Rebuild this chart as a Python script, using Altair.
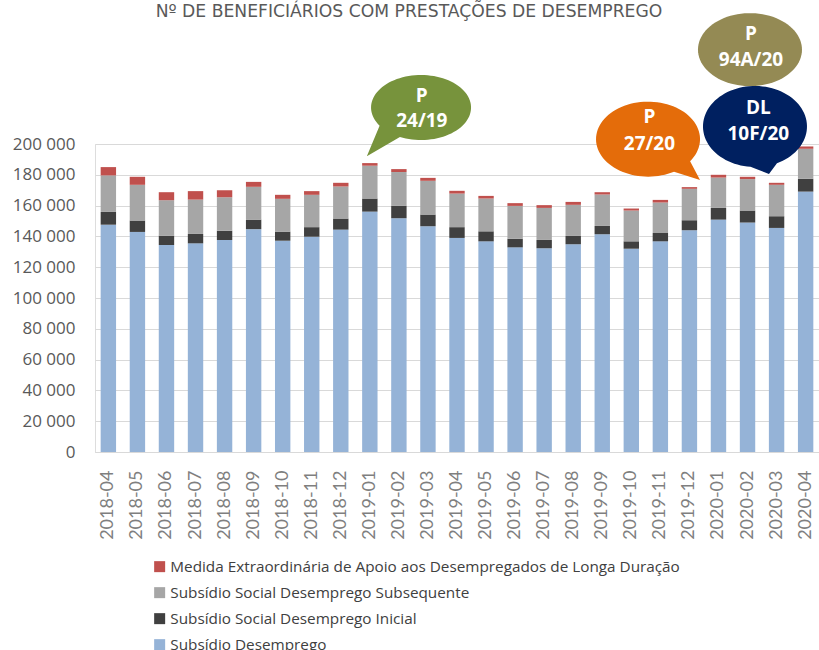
import math
import altair as alt
import pandas as pd

months = ["2018-04", "2018-05", "2018-06", "2018-07", "2018-08", "2018-09", "2018-10",
          "2018-11", "2018-12", "2019-01", "2019-02", "2019-03", "2019-04", "2019-05",
          "2019-06", "2019-07", "2019-08", "2019-09", "2019-10", "2019-11", "2019-12",
          "2020-01", "2020-02", "2020-03", "2020-04"]

subsidio_desemprego = [147600, 142900, 134400, 135500, 137700, 144700, 137200, 139800, 144400,
                       156100, 151800, 146600, 139000, 136800, 132900, 132300, 134900, 141400,
                       132000, 136800, 144000, 150900, 149000, 145500, 169100]
social_inicial = [8300, 7400, 6100, 6100, 6000, 6200, 5900, 6200, 7200, 8500, 8000, 7600, 7000,
                  6500, 5600, 5400, 5400, 5400, 4800, 5400, 6500, 7600, 7800, 7600, 8300]
social_subsequente = [23700, 23200, 23000, 22300, 21800, 21300, 21300, 21000, 20800, 21300, 22000,
                      21900, 21800, 21300, 21300, 20800, 20200, 20400, 20000, 19800, 20400, 19700,
                      20400, 20400, 19500]
medida_extra = [5400, 5200, 5200, 5500, 4500, 3200, 2600, 2400, 2400, 1700, 1900, 1900, 1800, 1700,
                1800, 1800, 1900, 1500, 1300, 1700, 1100, 1800, 1500, 1300, 1500]

series_names = ["Medida Extraordinária de Apoio aos Desempregados de Longa Duração",
                "Subsídio Social Desemprego Subsequente",
                "Subsídio Social Desemprego Inicial",
                "Subsídio Desemprego"]
series_colors = ["#C0504D", "#A6A6A6", "#404040", "#95B3D7"]

y_ticks = [0, 20000, 40000, 60000, 80000, 100000, 120000, 140000, 160000, 180000, 200000]

bubble_top = ["P", "P", "P", "DL"]
bubble_bottom = ["24/19", "27/20", "94A/20", "10F/20"]
bubble_month = ["2019-01", "2019-12", "2020-03", "2020-03"]
bubble_value = [192000, 176000, 181000, 181000]

title_text = "Nº DE BENEFICIÁRIOS COM PRESTAÇÕES DE DESEMPREGO"

# ---- tidy table for the stacked bars
stack_series = [(series_names[3], subsidio_desemprego), (series_names[2], social_inicial),
                (series_names[1], social_subsequente), (series_names[0], medida_extra)]
rows = []
for i, m in enumerate(months):
    for order, (name, vals) in enumerate(stack_series):
        rows.append({"month": m, "serie": name, "value": vals[i], "ord": order})
df = pd.DataFrame(rows)

x_scale = alt.Scale(domain=months, paddingInner=0.47, paddingOuter=0.195)
y_scale = alt.Scale(domain=[0, 200000], nice=False, zero=True)

x_axis = alt.Axis(title=None, labelAngle=270, labelFont="Lato", labelFontSize=18,
                  labelColor="#7F7F7F", labelPadding=18, ticks=False, tickSize=0,
                  domainColor="#D9D9D9", domainWidth=1, grid=False)
y_axis = alt.Axis(title=None, values=y_ticks,
                  labelExpr="replace(format(datum.value, ',d'), ',', ' ')",
                  labelFont="Open Sans", labelFontSize=17, labelColor="#595959",
                  labelPadding=20, labelOverlap=False, tickCount=11, ticks=False, tickSize=0,
                  domain=False, grid=True, gridColor="#D9D9D9", gridWidth=1)

bars = alt.Chart(df).mark_bar().encode(
    x=alt.X("month:N", scale=x_scale, axis=x_axis),
    y=alt.Y("value:Q", stack="zero", scale=y_scale, axis=y_axis),
    color=alt.Color("serie:N", scale=alt.Scale(domain=series_names, range=series_colors),
                    legend=alt.Legend(title=None, orient="none", legendX=57, legendY=415,
                                      direction="vertical", symbolType="square", symbolSize=121,
                                      symbolStrokeWidth=0, labelFont="Open Sans",
                                      labelFontSize=15.3, labelColor="#404040", labelOffset=3,
                                      rowPadding=10, padding=0, labelLimit=0)),
    order=alt.Order("ord:Q", sort="ascending"),
)

# ---- callout bubbles (shape offsets in pixels relative to the anchor point)
bubble_shapes = [
    dict(color="#77933C", c=(51.2, -48.8), r=(50, 32.5), tip=(-3, 0), ang=(115, 146),
         tx=52, ty=(-60.3, -35.3)),
    dict(color="#E46C0A", c=(-41.4, -41.8), r=(52, 37.5), tip=(10.6, -1), ang=(36, 60),
         tx=-40, ty=(-64, -37.3)),
    dict(color="#948A54", c=(-26.6, -123.6), r=(52, 36.5), tip=None, ang=None,
         tx=-25.6, ty=(-139.3, -113.3)),
    dict(color="#002060", c=(-21.6, -46.8), r=(52, 40.5), tip=(-7.6, 0.7), ang=(65, 95),
         tx=-18.3, ty=(-65, -39.6)),
]


def bubble_path(c, r, tip, ang, n=90):
    cx, cy = c
    rx, ry = r
    if tip is None:
        thetas = [2 * math.pi * k / n for k in range(n)]
    else:
        a0 = math.radians(ang[1])
        a1 = math.radians(ang[0]) + 2 * math.pi
        thetas = [a0 + (a1 - a0) * k / n for k in range(n + 1)]
    pts = [(cx + rx * math.cos(t), cy + ry * math.sin(t)) for t in thetas]
    if tip is not None:
        pts.append(tip)
    return "M " + " L ".join(f"{x:.2f} {y:.2f}" for x, y in pts) + " Z"


layers = [bars]
for i in range(len(bubble_top)):
    spec = bubble_shapes[i]
    bdf = pd.DataFrame({"month": [bubble_month[i]], "value": [bubble_value[i]],
                        "top": [bubble_top[i]], "bottom": [bubble_bottom[i]]})
    base = alt.Chart(bdf).encode(x=alt.X("month:N", scale=x_scale, axis=x_axis),
                                 y=alt.Y("value:Q", scale=y_scale, axis=y_axis))
    shape = base.mark_point(shape=bubble_path(spec["c"], spec["r"], spec["tip"], spec["ang"]),
                            size=4, filled=True, color=spec["color"], opacity=1, strokeWidth=0)
    t1 = base.mark_text(dx=spec["tx"], dy=spec["ty"][0], font="Open Sans", fontWeight="bold",
                        fontSize=19, color="white", align="center", baseline="middle"
                        ).encode(text="top:N")
    t2 = base.mark_text(dx=spec["tx"], dy=spec["ty"][1], font="Open Sans", fontWeight="bold",
                        fontSize=19, color="white", align="center", baseline="middle"
                        ).encode(text="bottom:N")
    layers += [shape, t1, t2]

chart = alt.layer(*layers).properties(
    width=724, height=308,
    title=alt.TitleParams(title_text, font="DejaVu Sans", fontSize=17.2, fontWeight="normal",
                          color="#595959", anchor="middle", dx=-48, offset=-7),
    autosize=alt.AutoSizeParams(type="none"),
    padding={"left": 95, "top": 144, "right": 0, "bottom": 198},
).configure_view(stroke=None).configure(background="white")

chart.save("out.html", embed_options={"renderer": "svg", "actions": False})
